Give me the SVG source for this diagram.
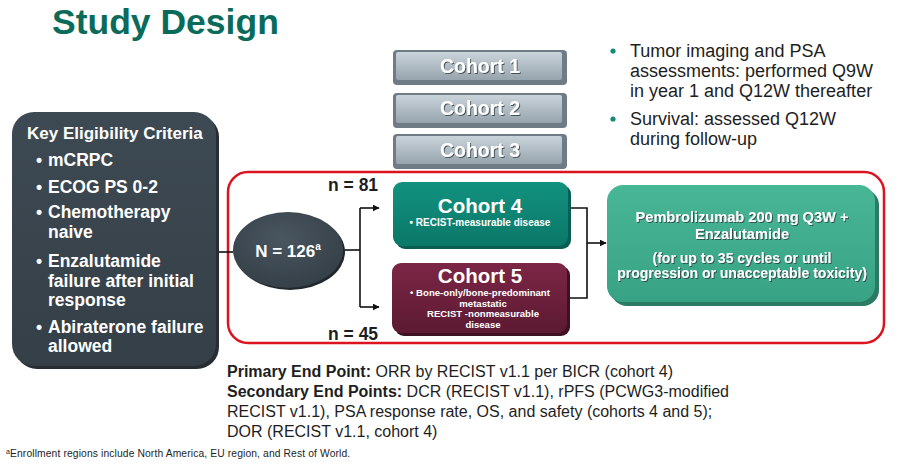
<svg xmlns="http://www.w3.org/2000/svg" width="898" height="470" viewBox="0 0 898 470">
<defs>
<style>
.t{font-family:"Liberation Sans",Arial,sans-serif}
.b{font-weight:bold}
.w{fill:#ffffff}
.k{fill:#1e1e1e}
.sh{filter:url(#ts)}
.ln{stroke:#111;stroke-width:1.6;fill:none}
</style>
<linearGradient id="gGrey" x1="0" y1="0" x2="0" y2="1">
<stop offset="0" stop-color="#c9d3da"/><stop offset="1" stop-color="#97a4ad"/>
</linearGradient>
<linearGradient id="gC4" x1="0" y1="0" x2="0" y2="1">
<stop offset="0" stop-color="#12917f"/><stop offset="1" stop-color="#0b7869"/>
</linearGradient>
<linearGradient id="gC5" x1="0" y1="0" x2="0" y2="1">
<stop offset="0" stop-color="#7c2646"/><stop offset="1" stop-color="#5c1a32"/>
</linearGradient>
<linearGradient id="gP" x1="0" y1="0" x2="0" y2="1">
<stop offset="0" stop-color="#48b796"/><stop offset="1" stop-color="#38a285"/>
</linearGradient>
<linearGradient id="gDark" x1="0" y1="0" x2="0" y2="1">
<stop offset="0" stop-color="#3e4a53"/><stop offset="1" stop-color="#343f47"/>
</linearGradient>
<radialGradient id="gOval" cx="0.45" cy="0.35" r="0.7">
<stop offset="0" stop-color="#4a5660"/><stop offset="1" stop-color="#333e46"/>
</radialGradient>
<filter id="ts" x="-10%" y="-30%" width="120%" height="160%">
<feDropShadow dx="1" dy="1" stdDeviation="0.6" flood-color="#2a3a40" flood-opacity="0.8"/>
</filter>
<marker id="arr" viewBox="0 0 10 10" refX="9" refY="5" markerWidth="7" markerHeight="7" markerUnits="userSpaceOnUse" orient="auto">
<path d="M0,0 L10,5 L0,10 z" fill="#111"/>
</marker>
</defs>

<rect width="898" height="470" fill="#ffffff"/>

<text id="title" class="t b" x="52" y="34" font-size="35.5" fill="#0a6b5b">Study Design</text>

<!-- Red outline -->
<rect id="redframe" x="228" y="172" width="656" height="171" rx="20" fill="none" stroke="#dc1420" stroke-width="2.5"/>

<!-- Connectors -->
<g id="connectors">
<line class="ln" x1="216" y1="252" x2="233" y2="252"/>
<line class="ln" x1="343" y1="250" x2="360" y2="250"/>
<line class="ln" x1="360" y1="208" x2="360" y2="307"/>
<line class="ln" x1="360" y1="208" x2="379" y2="208" marker-end="url(#arr)"/>
<line class="ln" x1="360" y1="307" x2="379" y2="307" marker-end="url(#arr)"/>
<polyline class="ln" points="568,208 587,208 587,298 567,298"/>
<line class="ln" x1="587" y1="243" x2="606" y2="243" marker-end="url(#arr)"/>
</g>

<!-- Eligibility box -->
<g id="eligibility">
<rect x="15" y="115" width="204" height="254" rx="22" fill="#262e34"/>
<rect x="12" y="112" width="204" height="254" rx="22" fill="url(#gDark)"/>
<g class="t b w" font-size="17.5">
<text x="27" y="139" font-size="17">Key Eligibility Criteria</text>
<text x="36" y="166">•</text><text x="48" y="166">mCRPC</text>
<text x="36" y="193">•</text><text x="48" y="193">ECOG PS 0-2</text>
<text x="36" y="218">•</text><text x="48" y="218">Chemotherapy</text>
<text x="48" y="238">naive</text>
<text x="36" y="267">•</text><text x="48" y="267">Enzalutamide</text>
<text x="48" y="287">failure after initial</text>
<text x="48" y="306">response</text>
<text x="36" y="333">•</text><text x="48" y="333">Abiraterone failure</text>
<text x="48" y="352">allowed</text>
</g>
</g>

<!-- Oval -->
<g id="total">
<ellipse cx="290" cy="252" rx="55" ry="38" fill="#20282d"/>
<ellipse cx="288" cy="250" rx="55" ry="38" fill="url(#gOval)"/>
<text class="t b w" x="288" y="257" font-size="17" text-anchor="middle">N = 126<tspan font-size="10" dy="-7">a</tspan></text>
</g>

<text id="n81" class="t b k" x="328" y="191" font-size="17.5">n = 81</text>
<text id="n45" class="t b k" x="328" y="340" font-size="17.5">n = 45</text>

<!-- Cohorts 1-3 -->
<g id="cohort1">
<rect x="393" y="50" width="174" height="35" rx="4" fill="#6f7c86"/>
<rect x="396" y="52" width="166" height="28" rx="2" fill="url(#gGrey)"/>
<text class="t b w sh" x="480" y="73" font-size="19.5" text-anchor="middle">Cohort 1</text>
</g>
<g id="cohort2">
<rect x="393" y="93" width="174" height="35" rx="4" fill="#6f7c86"/>
<rect x="396" y="95" width="166" height="28" rx="2" fill="url(#gGrey)"/>
<text class="t b w sh" x="480" y="115" font-size="19.5" text-anchor="middle">Cohort 2</text>
</g>
<g id="cohort3">
<rect x="393" y="134" width="174" height="35" rx="4" fill="#6f7c86"/>
<rect x="396" y="136" width="166" height="28" rx="2" fill="url(#gGrey)"/>
<text class="t b w sh" x="480" y="157" font-size="19.5" text-anchor="middle">Cohort 3</text>
</g>

<!-- Cohort 4 -->
<g id="cohort4">
<rect x="396" y="185" width="175" height="64" rx="9" fill="#0a5d52"/>
<rect x="393" y="182" width="175" height="64" rx="9" fill="url(#gC4)"/>
<text class="t b w" x="480" y="213" font-size="20.5" text-anchor="middle">Cohort 4</text>
<text class="t b w" x="480" y="226" font-size="10" text-anchor="middle">•  RECIST-measurable  disease</text>
</g>

<!-- Cohort 5 -->
<g id="cohort5">
<rect x="395" y="266" width="175" height="70" rx="9" fill="#3e1022"/>
<rect x="392" y="263" width="175" height="70" rx="9" fill="url(#gC5)"/>
<text class="t b w" x="480" y="283" font-size="20.5" text-anchor="middle">Cohort 5</text>
<g class="t b w" font-size="9.6" text-anchor="middle">
<text x="480" y="296">•  Bone-only/bone-predominant</text>
<text x="483" y="306.5">metastatic</text>
<text x="483" y="317">RECIST -nonmeasurable</text>
<text x="483" y="327.5">disease</text>
</g>
</g>

<!-- Treatment -->
<g id="treatment">
<rect x="611" y="189" width="268" height="117" rx="16" fill="#2b7a63"/>
<rect x="607" y="185" width="268" height="117" rx="16" fill="url(#gP)"/>
<g class="t b w sh" font-size="14.6" text-anchor="middle">
<text x="742" y="222">Pembrolizumab 200 mg Q3W +</text>
<text x="742" y="239">Enzalutamide</text>
<text x="742" y="263" font-size="14">(for up to 35 cycles or until</text>
<text x="742" y="278" font-size="14">progression or unacceptable toxicity)</text>
</g>
</g>

<!-- Assessments -->
<g id="assessments" class="t" font-size="18">
<circle cx="613" cy="51" r="2.6" fill="#168a78"/>
<text class="k" x="630" y="57">Tumor imaging and PSA</text>
<text class="k" x="630" y="77">assessments: performed Q9W</text>
<text class="k" x="630" y="97">in year 1 and Q12W thereafter</text>
<circle cx="613" cy="119" r="2.6" fill="#168a78"/>
<text class="k" x="630" y="125">Survival: assessed Q12W</text>
<text class="k" x="630" y="145">during follow-up</text>
</g>

<!-- End points -->
<g id="endpoints" class="t k" font-size="16">
<text x="227" y="377"><tspan font-weight="bold">Primary End Point:</tspan> ORR by RECIST v1.1 per BICR (cohort 4)</text>
<text x="227" y="397"><tspan font-weight="bold">Secondary End Points:</tspan> DCR (RECIST v1.1), rPFS (PCWG3-modified</text>
<text x="227" y="417">RECIST v1.1), PSA response rate, OS, and safety (cohorts 4 and 5);</text>
<text x="227" y="437">DOR (RECIST v1.1, cohort 4)</text>
</g>

<text id="footnote" class="t k" x="6" y="457" font-size="10.3" letter-spacing="0.12"><tspan font-size="7" dy="-3">a</tspan><tspan dy="3">Enrollment regions include North America, EU region, and Rest of World.</tspan></text>
</svg>
